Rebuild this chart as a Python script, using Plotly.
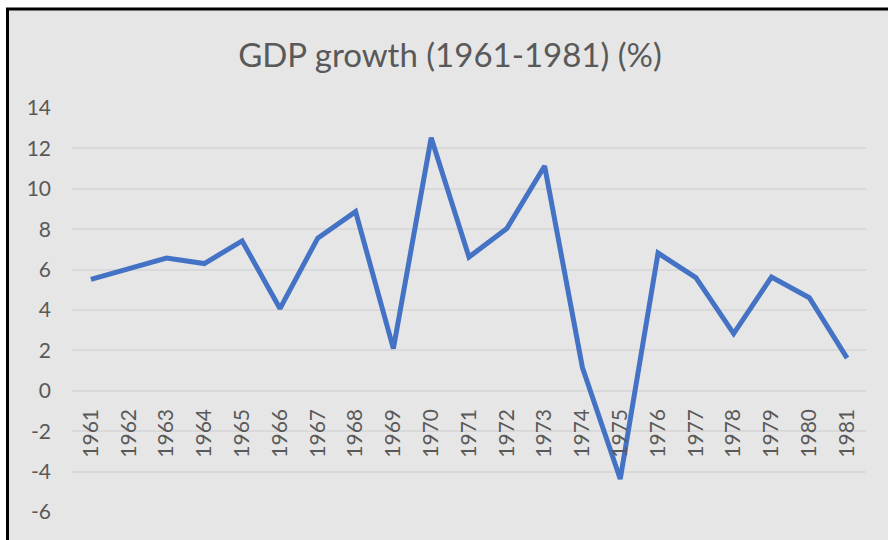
import plotly.graph_objects as go

years = [str(y) for y in range(1961, 1982)]
gdp_growth = [5.52, 6.05, 6.57, 6.30, 7.42, 4.07, 7.56, 8.87, 2.09, 12.53,
              6.62, 8.03, 11.13, 1.15, -4.37, 6.82, 5.60, 2.83, 5.63, 4.61, 1.62]
y_ticks = [-6, -4, -2, 0, 2, 4, 6, 8, 10, 12, 14]
y_tick_labels = ["-6", "-4", "-2", "0", "2", "4", "6", "8", "10", "12", "14"]
title_text = "GDP growth (1961-1981) (%)"

W, H = 888, 540
L, R, T, B = 72, 22, 108, 28
pw, ph = W - L - R, H - T - B

def px_x(p):
    return (p - L) / pw

def px_y(p):
    return (H - B - p) / ph

FONT = "Lato, Carlito, Calibri, sans-serif"
GRAY_TXT = "#595959"
BG = "#E6E6E6"
GRID = "#D9D9D9"

fig = go.Figure()
fig.add_trace(go.Scatter(
    x=years, y=gdp_growth, mode="lines",
    line=dict(color="#4472C4", width=5),
    hoverinfo="x+y", showlegend=False,
))

ymin, ymax = min(y_ticks), max(y_ticks)
zero_pos = (0 - ymin) / (ymax - ymin)

fig.update_layout(
    width=W, height=H,
    margin=dict(l=L, r=R, t=T, b=B, autoexpand=False),
    paper_bgcolor="white",
    plot_bgcolor=BG,
    title=dict(text=title_text, x=450 / W, xref="container", xanchor="center",
               y=1 - 55 / H, yref="container", yanchor="middle",
               font=dict(family=FONT, size=33, color=GRAY_TXT)),
    font=dict(family=FONT, color=GRAY_TXT),
    xaxis=dict(
        type="category", categoryorder="array", categoryarray=years,
        anchor="free", position=zero_pos,
        showgrid=False, zeroline=False, showline=False,
        ticks="", tickangle=-90, ticklabelstandoff=13,
        tickfont=dict(family=FONT, size=21, color=GRAY_TXT),
        range=[-0.5, len(years) - 0.5],
    ),
    yaxis=dict(
        range=[ymin, ymax], tickmode="array", tickvals=y_ticks, ticktext=y_tick_labels,
        showgrid=True, gridcolor=GRID, gridwidth=2,
        zeroline=True, zerolinecolor=GRID, zerolinewidth=2,
        showline=False, ticks="", ticklabelstandoff=20,
        tickfont=dict(family=FONT, size=21, color=GRAY_TXT),
    ),
    shapes=[dict(
        type="rect", xref="paper", yref="paper", layer="below",
        x0=px_x(7.5), x1=px_x(W + 20), y0=px_y(H + 20), y1=px_y(9),
        fillcolor=BG, line=dict(color="black", width=3),
    )],
)

fig.write_html("out.html", config={"displayModeBar": False},
               post_script="document.body.style.margin='0';document.body.style.overflow='hidden';")
